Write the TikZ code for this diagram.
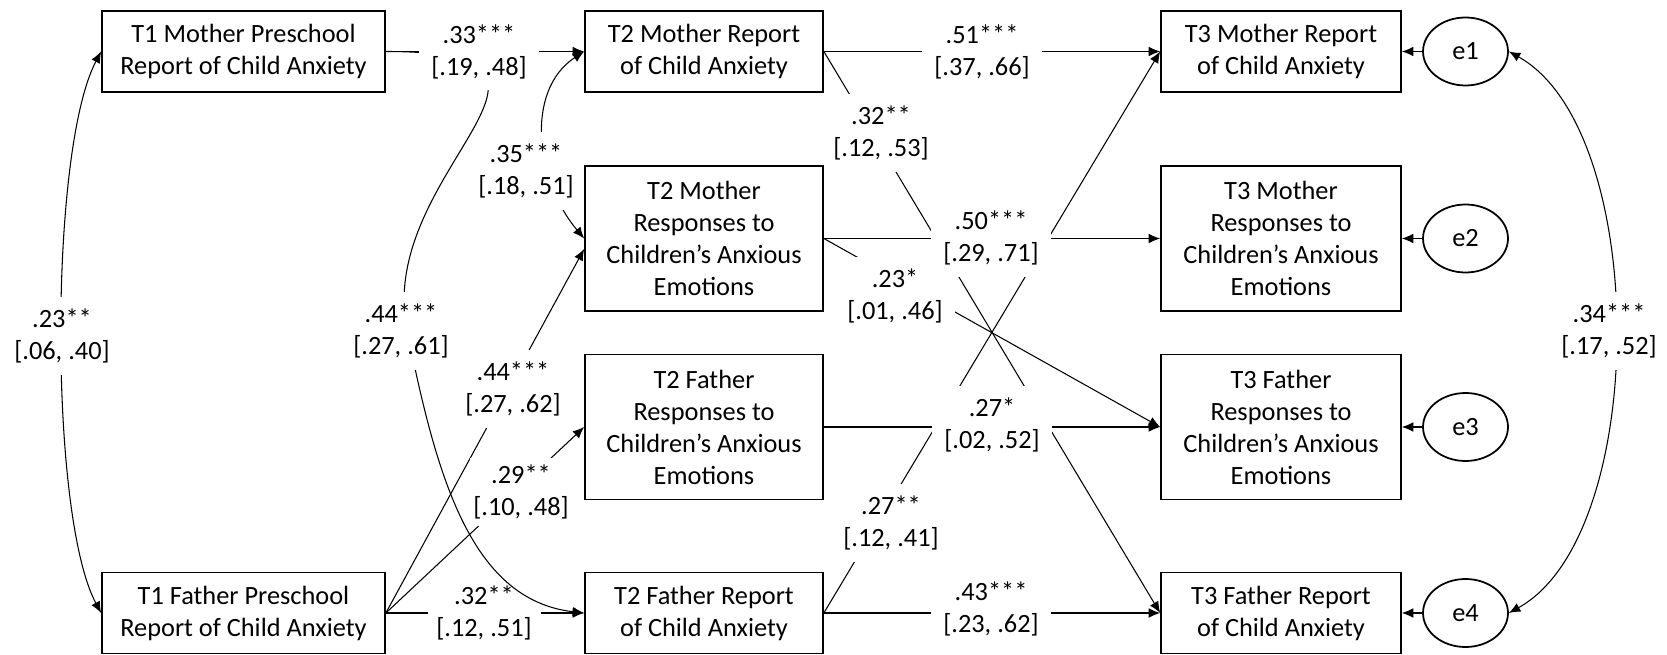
\documentclass[tikz,border=0pt]{standalone}
\usepackage{fontspec}
\setmainfont{Carlito}
\usetikzlibrary{arrows.meta,shapes.geometric}

\tikzset{
	box/.style={draw, line width=1pt, align=center, inner sep=0pt, minimum height=1.62cm},
	tall/.style={minimum height=2.9cm},
	err/.style={draw, ellipse, line width=1pt, inner sep=0pt, minimum width=1.7cm, minimum height=1.36cm},
	arr/.style={line width=0.6pt, -{Latex[length=6.5pt,width=5.5pt]}},
	cov/.style={line width=0.6pt, {Latex[length=6.5pt,width=5.5pt]}-{Latex[length=6.5pt,width=5.5pt]}},
	lbl/.style={fill=white, align=center, inner xsep=7pt, inner ysep=6.5pt}
}

\begin{document}
\begin{tikzpicture}[x=0.02cm, y=-0.02cm, font=\fontsize{15}{18.2}\selectfont]
	\useasboundingbox (0,0) rectangle (1667,655);

	% Time 1
	\node[box, minimum width=5.66cm] (T1M) at (243.5,51.5) {T1 Mother Preschool\\Report of Child Anxiety};
	\node[box, minimum width=5.66cm] (T1F) at (243.5,613) {T1 Father Preschool\\Report of Child Anxiety};

	% Time 2
	\node[box, minimum width=4.76cm] (T2Mr) at (704,51.5) {T2 Mother Report\\of Child Anxiety};
	\node[box, tall, minimum width=4.76cm] (T2Mresp) at (704,238.5) {T2 Mother\\Responses to\\Children’s Anxious\\Emotions};
	\node[box, tall, minimum width=4.76cm] (T2Fresp) at (704,427) {T2 Father\\Responses to\\Children’s Anxious\\Emotions};
	\node[box, minimum width=4.76cm] (T2Fr) at (704,613) {T2 Father Report\\of Child Anxiety};

	% Time 3
	\node[box, minimum width=4.8cm] (T3Mr) at (1281,51.5) {T3 Mother Report\\of Child Anxiety};
	\node[box, tall, minimum width=4.8cm] (T3Mresp) at (1281,238.5) {T3 Mother\\Responses to\\Children’s Anxious\\Emotions};
	\node[box, tall, minimum width=4.8cm] (T3Fresp) at (1281,427) {T3 Father\\Responses to\\Children’s Anxious\\Emotions};
	\node[box, minimum width=4.8cm] (T3Fr) at (1281,613) {T3 Father Report\\of Child Anxiety};

	% Errors
	\node[err] (e1) at (1465.5,51.5) {e1};
	\node[err] (e2) at (1465.5,238.5) {e2};
	\node[err] (e3) at (1465.5,427) {e3};
	\node[err] (e4) at (1465.5,613) {e4};
	\foreach \i/\t in {1/T3Mr, 2/T3Mresp, 3/T3Fresp, 4/T3Fr}
		\draw[arr] (e\i) -- (\t);

	% Paths
	\draw[arr] (T1M.east) -- (T2Mr.west);
	\draw[arr] (T1F.east) -- (T2Mresp.185);
	\draw[arr] (T1F.east) -- (T2Fresp.west);
	\draw[arr] (T1F.east) -- (T2Fr.west);
	\draw[arr] (T2Mr.east) -- (T3Mr.west);
	\draw[arr] (T2Mr.east) -- (T3Fr.west);
	\draw[arr] (T2Mresp.east) -- (T3Mresp.west);
	\draw[arr] (T2Mresp.east) -- (T3Fresp.west);
	\draw[arr] (T2Fresp.east) -- (T3Fresp.west);
	\draw[arr] (T2Fr.east) -- (T3Fr.west);
	\draw[arr] (T2Fr.east) -- (T3Mr.west);

	% Covariances
	\draw[cov] (T1M.west) .. controls (49,150) and (49,516) .. (T1F.west);
	\draw[cov] (T2Mr.west) .. controls (525,90) and (535,180) .. (T2Mresp.west);
	\draw[cov] (e1.east) .. controls (1650,130) and (1650,535) .. (e4.east);

	\node[lbl, inner xsep=5pt] (est7) at (484,613) {.32**\\{}[.12, .51]};

	% Long path
	\draw[arr] (T1M.east) .. controls (620,51.5) and (375,170) .. (407,330)
		.. controls (436,474) and (470,600) .. (T2Fr.west);

	% Estimates
	\node[lbl] (est1) at (62,336) {.23**\\{}[.06, .40]};
	\node[lbl] (est2) at (479,51.5) {.33***\\{}[.19, .48]};
	\node[lbl, inner xsep=2pt] (est3) at (526,171) {.35***\\{}[.18, .51]};
	\node[lbl] (est4) at (401,331) {.44***\\{}[.27, .61]};
	\node[lbl] (est5) at (513,389) {.44***\\{}[.27, .62]};
	\node[lbl, inner xsep=2pt, inner ysep=4pt] (est6) at (521,492) {.29**\\{}[.10, .48]};
	\node[lbl] (est8) at (982,51.5) {.51***\\{}[.37, .66]};
	\node[lbl, inner xsep=5pt] (est9) at (881,133) {.32**\\{}[.12, .53]};
	\node[lbl] (est11) at (895,296) {.23*\\{}[.01, .46]};
	\node[lbl] (est10) at (991,238) {.50***\\{}[.29, .71]};
	\node[lbl] (est12) at (992,425) {.27*\\{}[.02, .52]};
	\node[lbl] (est13) at (891,523) {.27**\\{}[.12, .41]};
	\node[lbl] (est14) at (991,609) {.43***\\{}[.23, .62]};
	\node[lbl] (est15) at (1609,331) {.34***\\{}[.17, .52]};

\end{tikzpicture}
\end{document}
